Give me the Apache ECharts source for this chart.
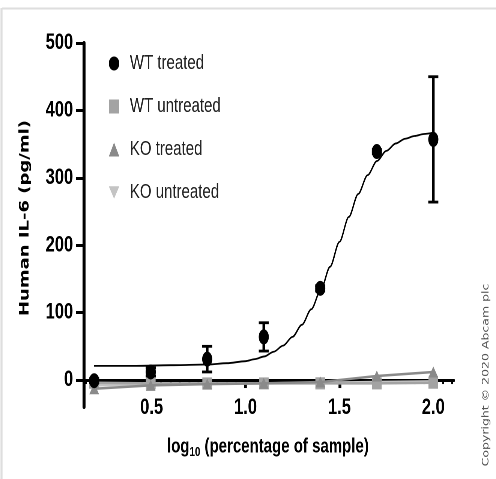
<!DOCTYPE html>
<html><head><meta charset="utf-8">
<script src="https://cdn.jsdelivr.net/npm/echarts@6/dist/echarts.min.js"></script>
<style>
html,body{margin:0;padding:0;background:#fff;overflow:hidden;width:496px;height:479px}
#c{width:661px;height:479px;transform:scale(0.75038,1);transform-origin:0 0}
</style>
</head><body><div id="c"></div>
<script>
// ---- data ----
const xDoses      = [0.194, 0.495, 0.796, 1.097, 1.398, 1.699, 2.0];
const wtTreated   = [-1, 12, 31, 64, 136, 339, 357];
const wtTreatedErr= [3, 6, 19, 21, 4, 3, 93];
const wtUntreated = [-4, -5, -5, -5, -5, -5, -4];
const koTreated   = [-13, -8, -6, -5, -3, 6, 12];
const koUntreated = [-8, -6, -5, -5, -4, -3, -2];
const fitX = [0.194, 0.4, 0.6, 0.8, 0.9, 1.0, 1.05, 1.1, 1.15, 1.2, 1.25, 1.3, 1.35, 1.4, 1.45, 1.5, 1.55, 1.6, 1.65, 1.7, 1.75, 1.8, 1.85, 1.9, 1.95, 2.0];
const fitY = [21, 21, 22, 23, 25, 28, 31, 35, 42, 51, 64, 82, 105, 133, 168, 205, 242, 276, 304, 325, 340, 351, 358, 362, 365, 367];
const yTickValues = [0, 100, 200, 300, 400, 500];
const xTickValues = [0.5, 1.0, 1.5, 2.0];
const xMinorTickValues = [0.15,0.2,0.25,0.3,0.35,0.4,0.45,0.5,0.55,0.6,0.65,0.7,0.75,0.8,0.85,0.9,0.95,1.0,
  1.05,1.1,1.15,1.2,1.25,1.3,1.35,1.4,1.45,1.5,1.55,1.6,1.65,1.7,1.75,1.8,1.85,1.9,1.95,2.0,2.05,2.1];
const legendNames = ['WT treated', 'WT untreated', 'KO treated', 'KO untreated'];

const zip = (xs, ys) => xs.map((x, i) => [x, ys[i]]);
const SANS = "'Liberation Sans', Arial, sans-serif";
const X_MIN = 0.14, X_MAX = 2.11, Y_MIN = -40, Y_MAX = 500;
// the whole drawing is laid out 1/0.75 wider and squeezed horizontally by CSS, like the reference
const GRID_TOP = 43, GRID_BOTTOM = 72, GRID_LEFT = 112, GRID_RIGHT = 56, PAGE_H = 479;
const plotH = PAGE_H - GRID_TOP - GRID_BOTTOM;
const zeroFromBottom = GRID_BOTTOM + plotH * (0 - Y_MIN) / (Y_MAX - Y_MIN);
const DOWN_TRI = 'path://M0,0L10,0L5,9Z';
const zeroGrid = { left: GRID_LEFT, right: GRID_RIGHT, top: GRID_TOP, bottom: zeroFromBottom };

const chart = echarts.init(document.getElementById('c'), null, { renderer: 'canvas', devicePixelRatio: 2 });
chart.setOption({
  animation: false,
  backgroundColor: '#fff',
  grid: [
    { left: GRID_LEFT, right: GRID_RIGHT, top: GRID_TOP, bottom: GRID_BOTTOM },
    // helper grids whose bottom edge is the y = 0 line (carry the x axis drawn at zero)
    Object.assign({}, zeroGrid),
    Object.assign({}, zeroGrid)
  ],
  xAxis: [
    { type: 'value', gridIndex: 0, min: X_MIN, max: X_MAX, show: false },
    { type: 'value', gridIndex: 1, min: X_MIN, max: X_MAX, position: 'bottom',
      axisLine: { show: true, onZero: false, lineStyle: { color: '#000', width: 3 } },
      axisTick: { show: true, customValues: xTickValues, length: 8, lineStyle: { color: '#000', width: 3.8 } },
      axisLabel: { show: true, customValues: xTickValues, margin: 17, color: '#000',
        fontFamily: SANS, fontWeight: 'bold', fontSize: 22,
        formatter: v => v.toFixed(1) },
      splitLine: { show: false } },
    { type: 'value', gridIndex: 2, min: X_MIN, max: X_MAX, position: 'bottom',
      axisLine: { show: false, onZero: false },
      axisTick: { show: true, customValues: xMinorTickValues, length: 4, lineStyle: { color: '#000', width: 2.6 } },
      axisLabel: { show: false }, splitLine: { show: false } }
  ],
  yAxis: [
    { type: 'value', gridIndex: 0, min: Y_MIN, max: Y_MAX,
      axisLine: { show: true, onZero: false, lineStyle: { color: '#000', width: 4 } },
      axisTick: { show: true, customValues: yTickValues, length: 10.5, lineStyle: { color: '#000', width: 3 } },
      axisLabel: { show: true, customValues: yTickValues, margin: 14.5, color: '#000',
        fontFamily: SANS, fontWeight: 'bold', fontSize: 22 },
      splitLine: { show: false } },
    { type: 'value', gridIndex: 1, min: 0, max: Y_MAX, show: false },
    { type: 'value', gridIndex: 2, min: 0, max: Y_MAX, show: false }
  ],
  legend: {
    orient: 'vertical', left: 145, top: 53.5, padding: 0, itemWidth: 14, itemHeight: 14, itemGap: 23,
    textStyle: { fontFamily: SANS, fontSize: 20, color: '#222', padding: [0, 0, 0, 9] },
    data: [
      { name: legendNames[0], icon: 'circle' },
      { name: legendNames[1], icon: 'rect' },
      { name: legendNames[2], icon: 'triangle' },
      { name: legendNames[3], icon: DOWN_TRI }
    ]
  },
  series: [
    { name: legendNames[3], type: 'line', xAxisIndex: 0, yAxisIndex: 0, data: zip(xDoses, koUntreated),
      symbol: DOWN_TRI, symbolSize: [13, 11],
      itemStyle: { color: '#c4c4c4' }, lineStyle: { color: '#c4c4c4', width: 2.5 }, z: 3 },
    { name: legendNames[1], type: 'line', xAxisIndex: 0, yAxisIndex: 0, data: zip(xDoses, wtUntreated),
      symbol: 'rect', symbolSize: [13, 12],
      itemStyle: { color: '#a3a3a3' }, lineStyle: { color: '#a3a3a3', width: 2.5 }, z: 4 },
    { name: legendNames[2], type: 'line', xAxisIndex: 0, yAxisIndex: 0, data: zip(xDoses, koTreated),
      symbol: 'triangle', symbolSize: [13, 11],
      itemStyle: { color: '#8a8a8a' }, lineStyle: { color: '#8a8a8a', width: 2.5 }, z: 5 },
    { name: 'fit', type: 'line', xAxisIndex: 0, yAxisIndex: 0, data: zip(fitX, fitY),
      smooth: 0.3, smoothMonotone: 'x', showSymbol: false, symbol: 'none',
      lineStyle: { color: '#000', width: 1.8 }, z: 6, silent: true },
    { name: 'err', type: 'custom', xAxisIndex: 0, yAxisIndex: 0, z: 7,
      data: xDoses.map((x, i) => [x, wtTreated[i] - wtTreatedErr[i], wtTreated[i] + wtTreatedErr[i]]),
      renderItem: (params, api) => {
        const top = api.coord([api.value(0), api.value(2)]);
        const bot = api.coord([api.value(0), api.value(1)]);
        const hw = 6.7;
        const vs = { stroke: '#000', lineWidth: 3.4 };
        const hs = { stroke: '#000', lineWidth: 2.8 };
        return { type: 'group', children: [
          { type: 'line', shape: { x1: top[0], y1: top[1], x2: bot[0], y2: bot[1] }, style: vs },
          { type: 'line', shape: { x1: top[0] - hw, y1: top[1], x2: top[0] + hw, y2: top[1] }, style: hs },
          { type: 'line', shape: { x1: bot[0] - hw, y1: bot[1], x2: bot[0] + hw, y2: bot[1] }, style: hs }
        ] };
      } },
    { name: legendNames[0], type: 'scatter', xAxisIndex: 0, yAxisIndex: 0, data: zip(xDoses, wtTreated),
      symbol: 'circle', symbolSize: [13.5, 15], itemStyle: { color: '#000', opacity: 1 }, z: 8 }
  ],
  graphic: [
    { type: 'line', shape: { x1: 2.7, y1: 8.5, x2: 661, y2: 8.5 }, style: { stroke: '#dedede', lineWidth: 2 } },
    { type: 'line', shape: { x1: 2, y1: 8, x2: 2, y2: 479 }, style: { stroke: '#dedede', lineWidth: 2.7 } },
    { type: 'text', x: 33.5, y: 218, rotation: Math.PI / 2,
      style: { text: 'Human IL-6 (pg/ml)', font: "bold 18px 'DejaVu Sans'", fill: '#000', align: 'center', verticalAlign: 'middle' } },
    { type: 'text', x: 357, y: 447,
      style: { text: '{a|log}{s|10}{a| (percentage of sample)}', align: 'center', verticalAlign: 'middle', fill: '#000',
        rich: {
          a: { fontFamily: SANS, fontSize: 20, fontWeight: 'bold', lineHeight: 24, fill: '#000' },
          s: { fontFamily: SANS, fontSize: 13, fontWeight: 'bold', lineHeight: 24, verticalAlign: 'bottom', padding: [10, 0, 0, 0], fill: '#000' }
        } } },
    { type: 'text', x: 647.5, y: 375, rotation: Math.PI / 2,
      style: { text: 'Copyright \u00a9 2020 Abcam plc', font: "12.5px 'DejaVu Sans'", fill: '#555', align: 'center', verticalAlign: 'middle' } }
  ]
});
</script>
</body></html>
